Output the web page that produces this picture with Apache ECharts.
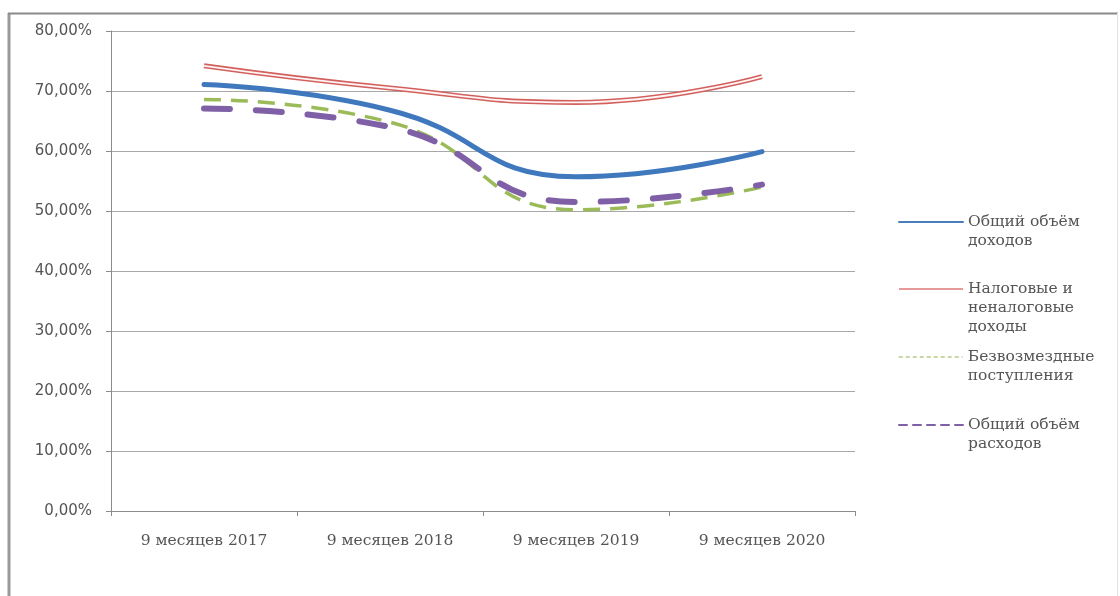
<!DOCTYPE html>
<html>
<head>
<meta charset="utf-8">
<script src="https://cdn.jsdelivr.net/npm/echarts@6/dist/echarts.min.js"></script>
<style>html,body{margin:0;padding:0;background:#fff;}#c{width:1120px;height:596px;}</style>
</head>
<body>
<div id="c"></div>
<script>
var categories = ['9 месяцев 2017', '9 месяцев 2018', '9 месяцев 2019', '9 месяцев 2020'];
var seriesNames = ['Общий объём доходов', 'Налоговые и неналоговые доходы', 'Безвозмездные поступления', 'Общий объём расходов'];
var legendLines = [['Общий объём', 'доходов'], ['Налоговые и', 'неналоговые', 'доходы'], ['Безвозмездные', 'поступления'], ['Общий объём', 'расходов']];
var totalIncome = [71.1, 66.8, 55.7, 59.9];
var taxIncome = [74.2, 70.5, 68.1, 72.4];
var grants = [68.6, 64.8, 50.2, 54.0];
var totalExpense = [67.1, 64.0, 51.5, 54.4];
var yTicks = [0, 10, 20, 30, 40, 50, 60, 70, 80];

var chart = echarts.init(document.getElementById('c'));
var serif = 'DejaVu Serif';
var textColor = '#555';
var lh = 19;
var legendIconY = [222, 289, 357, 425];
var legendLineStyles = [
  { color: '#4a7ebb', width: 2, type: 'solid' },
  { color: '#e39a98', width: 2, type: 'solid' },
  { color: '#b5cc86', width: 1.5, type: [4, 3] },
  { color: '#7f60a6', width: 2, type: [8, 6] }
];

var legends = seriesNames.map(function (name, i) {
  var n = legendLines[i].length;
  var total = 2 * n - 1;
  return {
    orient: 'vertical',
    left: 898,
    top: legendIconY[i] - total * lh / 2,
    data: [{ name: name, lineStyle: legendLineStyles[i], itemStyle: { opacity: 0, color: 'rgba(0,0,0,0)', borderWidth: 0 } }],
    itemWidth: 64,
    itemHeight: 12,
    itemGap: 0,
    padding: 0,
    selectedMode: false,
    itemStyle: { opacity: 0, color: 'rgba(0,0,0,0)', borderWidth: 0 },
    formatter: function () {
      var pre = [];
      for (var k = 0; k < n - 1; k++) pre.push(' ');
      return pre.concat(legendLines[i]).join('\n');
    },
    textStyle: { fontFamily: serif, fontSize: 15.5, color: textColor, lineHeight: lh, padding: [0, 0, 0, 0] }
  };
});

chart.setOption({
  animation: false,
  backgroundColor: '#fff',
  graphic: [
    { type: 'line', shape: { x1: 9, y1: 13, x2: 9, y2: 600 }, style: { stroke: '#9a9a9a', lineWidth: 3 } },
    { type: 'line', shape: { x1: 8, y1: 13.5, x2: 1118, y2: 13.5 }, style: { stroke: '#8a8a8a', lineWidth: 2 } },
    { type: 'line', shape: { x1: 1117.5, y1: 13, x2: 1117.5, y2: 600 }, style: { stroke: '#e2e2e2', lineWidth: 1 } }
  ],
  legend: legends,
  grid: { left: 111, right: 265, top: 31, bottom: 85, containLabel: false },
  xAxis: {
    type: 'category',
    data: categories,
    boundaryGap: true,
    axisLine: { lineStyle: { color: '#8c8c8c', width: 1 } },
    axisTick: { show: true, alignWithLabel: false, length: 5, lineStyle: { color: '#8c8c8c' } },
    axisLabel: { fontFamily: serif, fontSize: 15.5, color: textColor, margin: 22 }
  },
  yAxis: {
    type: 'value',
    min: yTicks[0],
    max: yTicks[yTicks.length - 1],
    interval: 10,
    axisLine: { show: true, lineStyle: { color: '#8c8c8c', width: 1 } },
    axisTick: { show: true, length: 5, lineStyle: { color: '#8c8c8c' } },
    splitLine: { lineStyle: { color: '#a8a8a8', width: 1 } },
    axisLabel: {
      fontFamily: 'DejaVu Sans', fontSize: 15, color: textColor, margin: 19,
      formatter: function (v) { return v.toFixed(2).replace('.', ',') + '%'; }
    }
  },
  series: [
    {
      name: seriesNames[1], type: 'line', data: taxIncome, smooth: 0.5, showSymbol: false, symbol: 'none',
      lineStyle: { color: '#d2605d', width: 5 }, itemStyle: { color: '#d2605d' }, z: 2
    },
    {
      name: '_inner', type: 'line', data: taxIncome, smooth: 0.5, showSymbol: false, symbol: 'none',
      lineStyle: { color: '#fff4f4', width: 1.8 }, itemStyle: { color: '#fff' }, z: 3, silent: true
    },
    {
      name: seriesNames[2], type: 'line', data: grants, smooth: 0.5, showSymbol: false, symbol: 'none',
      lineStyle: { color: '#9bbb59', width: 3.5, type: [17, 10], cap: 'butt' }, itemStyle: { color: '#9bbb59' }, z: 4
    },
    {
      name: seriesNames[3], type: 'line', data: totalExpense, smooth: 0.5, showSymbol: false, symbol: 'none',
      lineStyle: { color: '#7f60a6', width: 6, type: [26, 26], cap: 'round' }, itemStyle: { color: '#7f60a6' }, z: 5
    },
    {
      name: seriesNames[0], type: 'line', data: totalIncome, smooth: 0.5, showSymbol: false, symbol: 'none',
      lineStyle: { color: '#3f78bd', width: 5, cap: 'round' }, itemStyle: { color: '#3f78bd' }, z: 6
    }
  ]
});
</script>
</body>
</html>
